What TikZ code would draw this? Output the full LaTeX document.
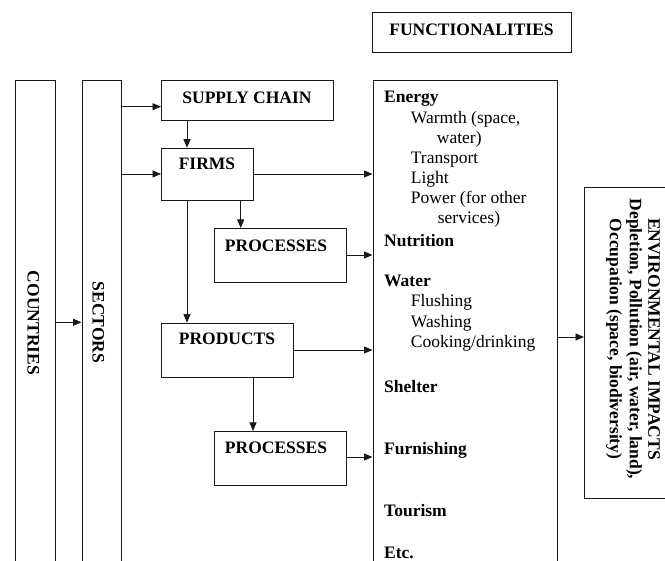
\documentclass[tikz,border=0pt]{standalone}
\usepackage{fontspec}
\setmainfont{Liberation Serif}
\usetikzlibrary{arrows.meta}
\begin{document}
\begin{tikzpicture}[x=1pt,y=-1pt,
  box/.style={draw=black!90, line width=0.9pt, rectangle, inner sep=0pt, anchor=north west},
  lbl/.style={font=\fontsize{17.5}{20.5}\selectfont\bfseries, inner sep=0pt, anchor=base},
  vlbl/.style={font=\fontsize{17.5}{20.5}\selectfont\bfseries, inner sep=0pt, rotate=-90},
  item/.style={font=\fontsize{17.5}{20.5}\selectfont, inner sep=0pt, anchor=base west},
  head/.style={item, font=\fontsize{17.5}{20.5}\selectfont\bfseries},
  flow/.style={draw=black!90, line width=0.9pt, -{Triangle[length=8.5pt,width=7pt]}},
]
\useasboundingbox (0,0) rectangle (665,561);
\clip (0,0) rectangle (665,561);

% boxes
\node[box, minimum width=40pt,    minimum height=520pt] (countries) at (15,80) {};
\node[box, minimum width=39.5pt,  minimum height=520pt] (sectors)   at (81.5,80) {};
\node[box, minimum width=172pt,   minimum height=40pt]  (supply)    at (161,80) {};
\node[box, minimum width=92pt,    minimum height=52.3pt](firms)     at (161,147.7) {};
\node[box, minimum width=132pt,   minimum height=54pt]  (proc1)     at (214,228) {};
\node[box, minimum width=132pt,   minimum height=54pt]  (products)  at (161,322.7) {};
\node[box, minimum width=132pt,   minimum height=54pt]  (proc2)     at (214,431) {};
\node[box, minimum width=184.5pt, minimum height=520pt] (func)      at (372.5,80) {};
\node[box, minimum width=198.7pt, minimum height=40pt]  (functitle) at (372.3,12.3) {};
\node[box, minimum width=95pt,    minimum height=311pt] (env)       at (584,187) {};

% box captions
\node[lbl] (tfunc)     at (471.5,36)  {FUNCTIONALITIES};
\node[lbl] (tsupply)   at (247,103.3) {SUPPLY CHAIN};
\node[lbl] (tfirms)    at (207,170)   {FIRMS};
\node[lbl] (tproc1)    at (276,251.7) {PROCESSES};
\node[lbl] (tproducts) at (227,345)   {PRODUCTS};
\node[lbl] (tproc2)    at (276,454)   {PROCESSES};
\node[vlbl] (tcountries) at (33.3,323) {COUNTRIES};
\node[vlbl] (tsectors)   at (98.3,322.5) {SECTORS};

% environmental impacts
\node[vlbl] (env1) at (654,339) {ENVIRONMENTAL IMPACTS};
\node[vlbl] (env2) at (634,339) {Depletion, Pollution (air, water, land),};
\node[vlbl] (env3) at (614,339) {Occupation (space, biodiversity)};

% list of functionalities
\node[head] (f1)  at (384,102.7)   {Energy};
\node[item] (f2)  at (410.7,123.3) {Warmth (space,};
\node[item] (f3)  at (436.7,143.3) {water)};
\node[item] (f4)  at (410.7,163.3) {Transport};
\node[item] (f5)  at (410.7,183.3) {Light};
\node[item] (f6)  at (410.7,203.3) {Power (for other};
\node[item] (f7)  at (437.7,224)   {services)};
\node[head] (f8)  at (384,246.7)   {Nutrition};
\node[head] (f9)  at (384,286.7)   {Water};
\node[item] (f10) at (410.7,307)   {Flushing};
\node[item] (f11) at (410.7,327.5) {Washing};
\node[item] (f12) at (410.7,348)   {Cooking/drinking};
\node[head] (f13) at (384,392.7)   {Shelter};
\node[head] (f14) at (384,455)     {Furnishing};
\node[head] (f15) at (384,516.7)   {Tourism};
\node[head] (f16) at (384,558.3)   {Etc.};

% horizontal connectors
\draw[flow] (countries.east |- 0,322.3) -- (sectors.west |- 0,322.3);
\draw[flow] (sectors.east |- 0,106.7) -- (supply.west |- 0,106.7);
\draw[flow] (sectors.east |- 0,174) -- (firms.west |- 0,174);
\draw[flow] (firms.east |- 0,174) -- (func.west |- 0,174);
\draw[flow] (proc1.east |- 0,255) -- (func.west |- 0,255);
\draw[flow] (products.east |- 0,350) -- (func.west |- 0,350);
\draw[flow] (proc2.east |- 0,457) -- (func.west |- 0,457);
\draw[flow] (func.east |- 0,337) -- (env.west |- 0,337);

% vertical connectors
\draw[flow] (supply.south -| 187,0) -- (firms.north -| 187,0);
\draw[flow] (firms.south -| 240.7,0) -- (proc1.north -| 240.7,0);
\draw[flow] (firms.south -| 187,0) -- (products.north -| 187,0);
\draw[flow] (products.south -| 253,0) -- (proc2.north -| 253,0);
\end{tikzpicture}
\end{document}
